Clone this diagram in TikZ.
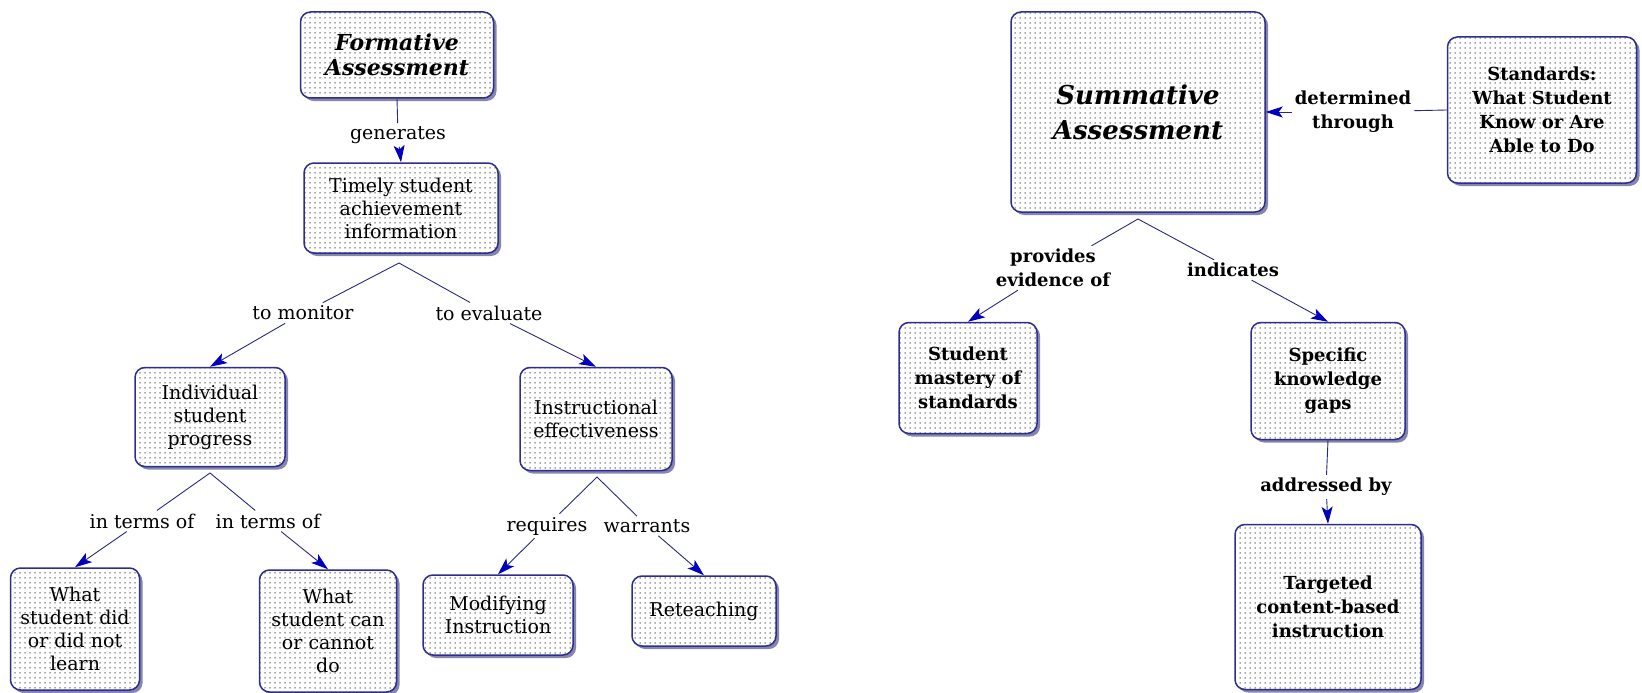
\documentclass[tikz,border=0pt]{standalone}
\usepackage{fontspec}
\setmainfont{DejaVu Serif}
\usetikzlibrary{arrows.meta,patterns.meta,shadows}
\definecolor{boxline}{RGB}{45,45,145}
\definecolor{conn}{RGB}{40,40,130}
\definecolor{tipblue}{RGB}{0,0,190}
\definecolor{dotc}{RGB}{80,80,80}
\tikzset{
  concept/.style={rounded corners=10pt, draw=boxline, line width=1.5pt,
    drop shadow={shadow xshift=3pt,shadow yshift=-3pt,fill=boxline!55!gray,opacity=0.7},
    preaction={fill=white},
    pattern={Dots[distance=5pt,radius=0.75pt]}, pattern color=dotc,
    align=center, inner sep=3pt},
  ltxt/.style={font=\fontsize{19}{23}\selectfont},
  rtxt/.style={font=\fontsize{18}{24}\selectfont\bfseries},
  lbl/.style={align=center, inner sep=3pt, font=\fontsize{19}{23}\selectfont},
  rlbl/.style={align=center, inner sep=3pt, font=\fontsize{18}{24}\selectfont\bfseries},
  conn/.style={draw=conn, line width=0.9pt},
  arr/.style={conn, -{Stealth[length=17pt,width=11pt,inset=4pt,color=tipblue]}}
}
\begin{document}
\begin{tikzpicture}[x=1pt,y=-1pt]
\useasboundingbox (0,0) rectangle (1642,693);
% ---------- left map ----------
\node[concept, minimum width=193pt, minimum height=86pt,
      font=\fontsize{22}{25}\selectfont\bfseries\itshape] (formative) at (397,55) {Formative\\Assessment};
\node[lbl] (generates) at (398,135) {generates};
\node[concept, ltxt, minimum width=194pt, minimum height=90pt] (timely) at (401,208) {Timely student\\achievement\\information};
\coordinate (j1) at (399,263);
\node[lbl] (monitor) at (303,313) {to monitor};
\node[lbl] (evaluate) at (489,313) {to evaluate};
\node[concept, ltxt, minimum width=150pt, minimum height=99pt] (indiv) at (210,417) {Individual\\student\\progress};
\node[concept, ltxt, minimum width=152pt, minimum height=103pt] (instr) at (596,419) {Instructional\\effectiveness};
\coordinate (j2) at (210,473);
\coordinate (j3) at (597,477);
\node[lbl] (terms1) at (142,521) {in terms of};
\node[lbl] (terms2) at (268,521) {in terms of};
\node[lbl] (requires) at (547,526) {requires};
\node[lbl] (warrants) at (647,526) {warrants};
\node[concept, ltxt, minimum width=129pt, minimum height=122pt] (did) at (75,629) {What\\student did\\or did not\\learn};
\node[concept, ltxt, minimum width=137pt, minimum height=122pt] (can) at (328,631) {What\\student can\\or cannot\\do};
\node[concept, ltxt, minimum width=150pt, minimum height=80pt] (modify) at (498,615) {Modifying\\Instruction};
\node[concept, ltxt, minimum width=144pt, minimum height=70pt] (reteach) at (704,611) {Reteaching};
\draw[conn] (formative.south) -- (generates);
\draw[arr] (generates) -- (timely.north);
\draw[conn] (monitor) -- (j1) -- (evaluate);
\draw[arr] (monitor) -- (indiv.north);
\draw[arr] (evaluate) -- (instr.north);
\draw[conn] (terms1) -- (j2) -- (terms2);
\draw[arr] (terms1) -- (did.north);
\draw[arr] (terms2) -- (can.north);
\draw[conn] (requires) -- (j3) -- (warrants);
\draw[arr] (requires) -- (modify.north);
\draw[arr] (warrants) -- (reteach.north);
% ---------- right map ----------
\node[concept, minimum width=254pt, minimum height=200pt,
      font=\fontsize{26}{35}\selectfont\bfseries\itshape] (summ) at (1138,112) {Summative\\Assessment};
\node[rlbl] (determined) at (1353,112) {determined\\through};
\node[concept, rtxt, minimum width=189pt, minimum height=146pt] (standards) at (1542,110) {Standards:\\What Student\\Know or Are\\Able to Do};
\coordinate (j4) at (1138,219);
\node[rlbl] (provides) at (1053,268) {provides\\evidence of};
\node[rlbl] (indicates) at (1233,270) {indicates};
\node[concept, rtxt, minimum width=138pt, minimum height=111pt] (mastery) at (968,378) {Student\\mastery of\\standards};
\node[concept, rtxt, minimum width=154pt, minimum height=117pt] (gaps) at (1328,381) {Specific\\knowledge\\gaps};
\node[rlbl] (addressed) at (1326,487) {addressed by};
\node[concept, rtxt, minimum width=186pt, minimum height=165pt] (targeted) at (1328,607) {Targeted\\content-based\\instruction};
\draw[conn] (standards.west) -- (determined);
\draw[arr] (determined) -- (summ.east);
\draw[conn] (provides) -- (j4) -- (indicates);
\draw[arr] (provides) -- (mastery.north);
\draw[arr] (indicates) -- (gaps.north);
\draw[conn] (gaps.south) -- (addressed);
\draw[arr] (addressed) -- (targeted.north);
\end{tikzpicture}
\end{document}
